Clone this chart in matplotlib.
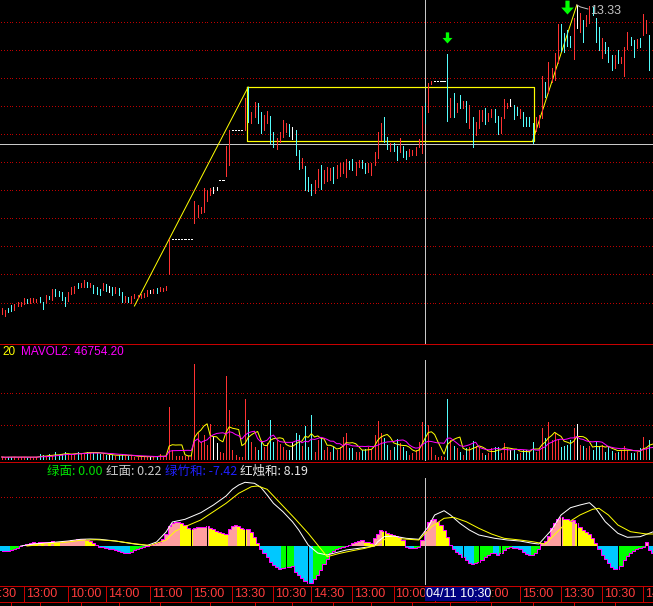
import numpy as np
import pandas as pd
import matplotlib
matplotlib.use('Agg')
import matplotlib.pyplot as plt
from matplotlib.path import Path
from matplotlib.lines import Line2D
from matplotlib.patches import Rectangle
from matplotlib.transforms import offset_copy, blended_transform_factory, Bbox

plt.rcParams['font.family'] = ['Liberation Sans', 'DejaVu Sans']

# ---- price bars (15 min), high / low, direction r=up c=down w=flat ----
highs = [10.30, 10.28, 10.30, 10.33, 10.34, 10.36, 10.36, 10.40, 10.39, 10.40,
         10.40, 10.39, 10.41, 10.36, 10.43, 10.42, 10.49, 10.49, 10.47, 10.46,
         10.41, 10.46, 10.51, 10.52, 10.55, 10.55, 10.58, 10.56, 10.55, 10.53,
         10.51, 10.49, 10.55, 10.54, 10.52, 10.51, 10.51, 10.50, 10.46, 10.42,
         10.41, 10.42, 10.44, 10.43, 10.44, 10.45, 10.48, 10.48, 10.49, 10.50,
         10.51, 10.50, 10.52, 10.99, 10.99, 10.99, 10.99, 10.99, 10.99, 10.99,
         10.99, 11.37, 11.33, 11.31, 11.50, 11.48, 11.50, 11.51, 11.51, 11.58,
         11.58, 11.92, 12.08, 12.08, 12.08, 12.08, 12.08, 12.40, 12.51, 12.26,
         12.36, 12.35, 12.26, 12.23, 12.27, 12.22, 12.06, 12.00, 12.06, 12.18,
         12.15, 12.14, 12.11, 12.08, 11.88, 11.80, 11.72, 11.61, 11.54, 11.58,
         11.69, 11.73, 11.68, 11.71, 11.70, 11.71, 11.73, 11.75, 11.76, 11.79,
         11.77, 11.79, 11.76, 11.78, 11.78, 11.75, 11.75, 11.75, 11.86, 12.06,
         12.15, 12.21, 12.01, 11.95, 11.95, 11.92, 12.00, 11.92, 11.87, 11.89,
         11.88, 11.91, 11.99, 12.32, 12.35, 12.55, 12.57, 12.57, 12.57, 12.57,
         12.57, 12.84, 12.40, 12.45, 12.35, 12.43, 12.37, 12.37, 12.33, 12.21,
         12.16, 12.28, 12.28, 12.30, 12.25, 12.29, 12.29, 12.22, 12.21, 12.39,
         12.35, 12.39, 12.33, 12.31, 12.29, 12.26, 12.21, 12.21, 12.15, 12.21,
         12.23, 12.62, 12.56, 12.76, 12.70, 12.85, 13.14, 13.14, 13.05, 13.08,
         13.02, 13.20, 13.33, 13.25, 13.18, 13.23, 13.32, 13.31, 13.20, 13.11,
         13.00, 12.96, 12.91, 12.83, 12.83, 12.88, 12.81, 12.91, 13.06, 13.01,
         12.98, 12.99, 13.00, 13.24, 13.18, 13.03, 12.76]
lows = [10.24, 10.22, 10.26, 10.27, 10.28, 10.32, 10.32, 10.34, 10.35, 10.35,
        10.36, 10.36, 10.36, 10.29, 10.35, 10.39, 10.38, 10.42, 10.42, 10.38,
        10.32, 10.37, 10.44, 10.45, 10.50, 10.51, 10.51, 10.51, 10.51, 10.45,
        10.44, 10.43, 10.48, 10.47, 10.46, 10.43, 10.45, 10.43, 10.36, 10.36,
        10.36, 10.35, 10.40, 10.40, 10.40, 10.41, 10.42, 10.45, 10.45, 10.45,
        10.47, 10.47, 10.48, 10.64, 10.99, 10.99, 10.99, 10.99, 10.99, 10.99,
        10.99, 11.15, 11.21, 11.25, 11.26, 11.37, 11.43, 11.45, 11.48, 11.58,
        11.58, 11.62, 11.73, 12.08, 12.08, 12.08, 12.08, 12.08, 12.16, 12.15,
        12.21, 12.15, 12.05, 12.08, 12.15, 11.95, 11.91, 11.89, 11.96, 12.01,
        12.06, 12.02, 11.99, 11.83, 11.69, 11.70, 11.48, 11.47, 11.43, 11.45,
        11.51, 11.49, 11.55, 11.57, 11.58, 11.55, 11.60, 11.62, 11.65, 11.61,
        11.69, 11.68, 11.63, 11.71, 11.70, 11.65, 11.66, 11.63, 11.73, 11.80,
        11.98, 11.96, 11.89, 11.87, 11.87, 11.78, 11.86, 11.81, 11.79, 11.82,
        11.83, 11.83, 11.91, 11.85, 12.15, 12.26, 12.54, 12.57, 12.57, 12.57,
        12.57, 12.17, 12.21, 12.21, 12.26, 12.30, 12.30, 12.16, 12.10, 11.91,
        12.03, 12.10, 12.17, 12.14, 12.17, 12.21, 12.16, 12.04, 12.05, 12.20,
        12.30, 12.32, 12.19, 12.23, 12.20, 12.12, 12.12, 12.12, 11.95, 12.07,
        12.11, 12.20, 12.41, 12.45, 12.56, 12.58, 12.75, 12.87, 12.86, 12.92,
        12.91, 12.79, 13.10, 13.06, 12.96, 13.12, 13.15, 13.23, 12.96, 12.88,
        12.80, 12.85, 12.76, 12.68, 12.70, 12.75, 12.75, 12.62, 12.89, 12.93,
        12.81, 12.90, 12.91, 13.03, 13.05, 12.68, 12.53]
dirs = ("rrccrrrrcr" "rrccrcrccc" "crrrcrrcrc" "ccrcwcrccr" "crrrrrrwrc"
        "rrrrwwwwww" "wrrrrrrwww" "wrrwwwwrcr" "rccrrccrrr" "rcwccrcccr"
        "rcrrrcrrrr" "ccrrccrrrr" "rccrccrccr" "rrrrcrrwww" "wcrcrcrcrc"
        "rrrcrrccrr" "rwccrccccr" "rrcrrrrccc" "crwrcrrccc" "rcccrcrrrc"
        "crcrrcc")

# volume, thousands of lots
volume_k = [6, 4.5, 6, 6, 6, 4.5, 6, 6, 4.5, 6,
            4.5, 6, 14, 12, 6, 14, 9, 21, 12, 14,
            21, 12, 14, 16, 21, 16, 19, 21, 19, 21,
            17, 16, 14, 12, 11, 12, 9, 12, 14, 11,
            9, 9, 7, 7, 7, 7, 7, 7, 7, 7,
            14, 7, 9, 157, 27, 9, 9, 9, 10, 9,
            9, 285, 78, 51, 72, 42, 106, 66, 47, 22,
            17, 249, 147, 27, 12, 7, 7, 179, 117, 52,
            37, 27, 52, 37, 48, 117, 51, 57, 45, 37,
            28, 27, 52, 77, 72, 40, 99, 37, 132, 22,
            57, 63, 27, 37, 22, 37, 27, 37, 67, 77,
            32, 32, 22, 22, 27, 30, 37, 27, 72, 115,
            77, 62, 42, 27, 35, 59, 47, 35, 25, 12,
            17, 27, 52, 112, 105, 102, 37, 12, 7, 10,
            7, 179, 57, 39, 32, 22, 12, 32, 37, 54,
            39, 35, 17, 12, 17, 32, 35, 37, 17, 47,
            32, 27, 27, 15, 17, 27, 27, 22, 52, 22,
            27, 92, 62, 112, 57, 77, 59, 35, 39, 42,
            57, 92, 105, 42, 39, 32, 39, 27, 52, 35,
            42, 22, 39, 25, 17, 22, 27, 39, 27, 17,
            17, 22, 32, 65, 32, 57, 37]

# lower indicator histogram
hist = [-4.5, -4.7, -4.8, -3.6, -2.8, -1.5, 0.5, 1.2, 2.3, 3.3,
        3.7, 3.5, 4.0, 3.8, 4.2, 4.0, 4.6, 4.4, 4.2, 4.5,
        5.0, 5.5, 6.0, 6.4, 6.8, 7.0, 7.3, 6.5, 5.0, 3.2,
        1.3, -0.8, -1.3, -2.0, -2.6, -3.3, -4.0, -5.0, -6.0, -6.7,
        -7.0, -5.7, -4.3, -3.3, -2.3, -1.3, -0.3, 1.0, 2.0, 3.0,
        4.3, 7.0, 12.0, 20.0, 23.0, 23.7, 24.0, 22.7, 21.0, 18.3,
        16.7, 17.7, 18.7, 19.3, 19.5, 19.7, 17.7, 16.7, 15.3, 13.7,
        12.7, 12.0, 17.0, 20.3, 21.0, 20.0, 18.3, 17.3, 17.5, 14.3,
        8.7, 2.7, -3.3, -7.3, -11.3, -15.7, -19.0, -21.3, -22.7, -22.0,
        -21.3, -20.7, -20.0, -25.7, -29.0, -32.3, -34.7, -36.7, -36.8, -33.3,
        -29.0, -24.0, -18.0, -13.3, -6.7, -5.0, -3.3, -2.3, -1.3, -0.3,
        1.3, 2.7, 4.0, 5.0, 6.0, 4.3, 3.7, 3.3, 7.7, 12.0,
        16.3, 15.0, 13.3, 12.0, 11.0, 10.0, 8.7, 6.0, -1.3, -2.0,
        -2.3, -1.7, -0.7, 6.0, 15.3, 24.3, 26.0, 26.7, 24.3, 21.0,
        16.0, 8.7, 1.0, -3.3, -5.7, -8.0, -11.3, -14.0, -16.7, -18.0,
        -17.3, -15.7, -14.0, -11.3, -9.0, -6.7, -7.3, -9.0, -6.7, -4.0,
        -2.3, -1.3, -1.7, -2.0, -3.3, -5.7, -8.0, -9.0, -8.7, -6.7,
        -3.3, 2.7, 5.3, 10.0, 17.7, 23.3, 26.7, 28.7, 27.3, 26.7,
        25.3, 26.0, 22.7, 19.3, 16.0, 14.3, 12.0, 7.7, 2.7, -3.3,
        -9.0, -13.3, -17.3, -20.7, -22.7, -23.0, -20.0, -14.0, -10.0, -7.3,
        -4.7, -3.3, -2.3, -1.3, 4.3, -4.0, -6.7]
black_bars = [60, 65, 77, 90, 97, 121, 146, 151, 158, 177, 182, 195]

white_bars = [6, 10, 15, 21, 25, 28, 31, 36, 42, 46, 49, 52, 54, 58, 63, 67, 71, 73, 75, 77,
              80, 82, 84, 86, 89, 92, 94, 97, 100, 103, 105, 109, 113, 118, 119, 121, 124, 128,
              132, 135, 137, 140, 142, 145, 148, 151, 156, 160, 164, 168, 170, 174, 177, 180,
              183, 186, 188, 191, 195, 198, 202, 206]
white_vals = [0, 2, 3.3, 5, 6.7, 7, 6.7, 5, 2, 0.5, 4, 14, 24, 26.7, 33.3, 41, 50, 56.7, 61, 63.7,
              62.7, 58.7, 51, 42.7, 34.3, 24.3, 16, 1, -7, -9, -7.3, -4, -2.3, 0, 4.3, 9.3, 10, 7.7,
              6.7, 19.3, 31, 35.3, 31, 22.7, 16, 11, 7.7, 6, 5, 2.7, 2, 16, 31, 38.3,
              41, 43.3, 37.7, 24.3, 12.7, 8.7, 9.3, 14]
yellow_bars = [8, 15, 21, 25, 30, 36, 42, 47, 52, 55, 58, 63, 67, 71, 75, 79, 81, 84, 87, 90,
               93, 97, 100, 103, 107, 111, 115, 119, 122, 126, 132, 136, 140, 143, 147, 151,
               155, 159, 164, 168, 172, 178, 183, 187, 189, 192, 195, 199, 204, 206]
yellow_vals = [0, 2.3, 4, 5.7, 6.3, 5, 2.3, 0.5, 6, 15, 19.3, 26, 34.3, 42.7, 52.7, 59.3, 60, 56.7,
               46.7, 36.7, 26.7, 12.7, 1, -10.7, -7.3, -4.7, -2.3, 1, 8.7, 7.3, 6, 19.3, 27.7,
               28.7, 24.3, 17.7, 12, 7.7, 6, 4.3, 2, 21, 31, 36.7, 37.7, 31, 21, 14.3, 12, 12]

grid_prices = [13.15, 12.87, 12.59, 12.31, 12.03, 11.75, 11.47, 11.19, 10.91, 10.63, 10.34]
vol_grid = [98000, 195000]
ind_grid = [48.3]

zig_bars = [42, 78, 168, 182]
zig_vals = [10.32, 12.51, 11.97, 13.33]
signal_bars = [141, 179]
signal_tips = [12.95, 13.24]

cross_bar = 134
cross_price = 11.94
cross_label = '04/11 10:30'

time_bars = [-6, 7, 21, 33, 47, 60, 73, 86, 98, 111, 124, 137, 150, 164, 177, 190, 203]
time_labels = ['13:30', '13:00', '10:00', '14:00', '11:00', '15:00', '13:30', '10:30', '14:30',
               '13:00', '10:00', '14:00', '11:00', '15:00', '13:30', '10:30', '14:30']
minor_bars = [3, 12, 25, 37, 50, 66, 80, 92, 105, 117, 130, 142, 155, 168, 181, 194]

# ---- drawing ----
W, H, DPI = 653, 606, 100
PX = 72 / DPI
BG = 'black'
UP = '#ff3232'
DOWN = '#54fcfc'
FLAT = '#ffffff'
GRID = '#c00000'
FRAME = '#c80000'
YEL = '#ffff00'
XLIM = (-0.54, 206.11)
BAR_PX = 3.16

highs = np.array(highs)
lows = np.array(lows)
hist = np.array(hist)
n = len(highs)
idx = np.arange(n)
colmap = {'r': UP, 'c': DOWN, 'w': FLAT}
cols = [colmap[d] for d in dirs]
flat = highs == lows

fig = plt.figure(figsize=(W / DPI, H / DPI), dpi=DPI, facecolor=BG)


def panel(top, bottom, ylim):
    ax = fig.add_axes([0, 1 - bottom / H, 1, (bottom - top) / H])
    ax.set_xlim(*XLIM)
    ax.set_ylim(*ylim)
    ax.axis('off')
    return ax


def fig_y(y):
    return 1 - y / H


dot_x = (np.arange(0, W, 3) + 0.5) / W


def dotted(ax, levels):
    tr = blended_transform_factory(ax.transAxes, ax.transData)
    for g in levels:
        ax.plot(dot_x, np.full(dot_x.size, g), ls='none', marker=',', color=GRID,
                transform=tr)


# main price panel
ax = panel(0, 344, (9.94, 13.38))
dotted(ax, grid_prices)
ax.axhline(cross_price, color='#c8c8c8', lw=PX, antialiased=False)
ax.axvline(cross_bar, color='#c8c8c8', lw=PX, antialiased=False)

ax.plot(zig_bars[0:2], zig_vals[0:2], color=YEL, lw=PX)
ax.plot(zig_bars[2:4], zig_vals[2:4], color=YEL, lw=PX)
bl, br = zig_bars[1] - 0.3, zig_bars[2] + 0.6
bt, bb = zig_vals[1], zig_vals[2]
ax.plot([bl, br, br, bl, bl], [bt, bt, bb, bb, bt], color=YEL, lw=PX * 1.2)

m = ~flat
ax.vlines(idx[m], lows[m], highs[m], colors=[c for c, k in zip(cols, m) if k], lw=PX,
          antialiased=False)
ax.hlines(highs[flat], idx[flat] - 0.2, idx[flat] + 0.2, colors=FLAT, lw=PX, antialiased=False)

arrow = Path([(0, 0), (0.45, 0.5), (0.15, 0.5), (0.15, 1.0), (-0.15, 1.0), (-0.15, 0.5),
              (-0.45, 0.5), (0, 0)],
             [Path.MOVETO] + [Path.LINETO] * 6 + [Path.CLOSEPOLY])
for b, tip, ms in zip(signal_bars, signal_tips, [16, 20]):
    ax.plot([b], [tip], marker=arrow, ms=ms, color='#00ff00', mec='none', ls='none')

top_bar = int(np.argmax(highs))
hi_tr = offset_copy(ax.transData, fig=fig, x=13, y=-6, units='dots')
ax.text(top_bar, highs[top_bar], f'{highs[top_bar]:.2f}', transform=hi_tr, color='#c0c0c0',
        fontsize=9, va='center', ha='left')
ax.plot([top_bar, top_bar + 1.2, top_bar + 3.5], [highs[top_bar], highs[top_bar] - 0.02,
        highs[top_bar] - 0.04], color='#c0c0c0', lw=PX)

# volume panel
VS = 3000.0
av = panel(345, 461, (-2 * VS, 114 * VS))
vol = np.array(volume_k) * 1000
vcols = [UP if (d == 'w' and f) else colmap[d] for d, f in zip(dirs, flat)]
dotted(av, vol_grid)
av.axvline(cross_bar, ymin=0, ymax=(461 - 360) / 116, color='#c8c8c8', lw=PX, antialiased=False)
av.vlines(idx, 0, vol, colors=vcols, lw=PX, antialiased=False)
vs = pd.Series(vol)
av.plot(idx, vs.rolling(5, min_periods=1).mean(), color=YEL, lw=PX)
av.plot(idx, vs.rolling(10, min_periods=1).mean(), color='#ff00ff', lw=PX)

# indicator panel
ai = panel(462, 585, (-39, 84))
dotted(ai, ind_grid)
ai.axvline(cross_bar, ymin=0, ymax=(585 - 478) / 123, color='#c8c8c8', lw=PX, antialiased=False)
prev = np.r_[hist[0] + 0.01, hist[:-1]]
hcols = np.where(hist >= 0, np.where(hist > prev, '#ff9f9f', YEL),
                 np.where(hist < prev, '#00c8ff', '#00ff00'))
ai.bar(idx, hist, width=1.0, color=hcols, linewidth=0, antialiased=False)
ai.step(idx, hist, where='mid', color='#ff00ff', lw=PX)
ai.vlines(black_bars, 0, hist[black_bars], colors='black', lw=PX, antialiased=False)
ai.plot(white_bars, white_vals, color='#ffffff', lw=PX)
ai.plot(yellow_bars, yellow_vals, color=YEL, lw=PX)

# time axis
at = panel(585, 606, (21, 0))
at.vlines(time_bars, 0.5, 16.5, colors=FRAME, lw=PX, antialiased=False)
at.vlines(minor_bars, 16.5, 21, colors=FRAME, lw=PX, antialiased=False)
box_w = 65 / BAR_PX
box_right_px = (cross_bar + box_w - XLIM[0]) * BAR_PX
keep = Bbox([[box_right_px, 0], [W, H]])
lab_tr = offset_copy(at.transData, fig=fig, x=2, units='dots')
for b, t in zip(time_bars, time_labels):
    under_box = cross_bar <= b < cross_bar + box_w
    # a label whose text lies wholly under the cursor box is not seen at all
    if under_box and (b - cross_bar) * BAR_PX + 32 < 65:
        continue
    txt = at.text(b, 9, t, transform=lab_tr, color='#ff3c3c', fontsize=9, va='center',
                  ha='left')
    if under_box:
        txt.set_clip_box(keep)
        txt.set_clip_on(True)
at.add_patch(Rectangle((cross_bar, 1.2), box_w, 15, facecolor='#000080', edgecolor='none',
                       zorder=5))
at.text(cross_bar, 9, cross_label, transform=offset_copy(at.transData, fig=fig, x=1,
        units='dots'), color='white', fontsize=9, va='center', ha='left', zorder=6)

# frame lines
for y in [344, 462, 585.5, 601.5]:
    fig.add_artist(Line2D([0, 1], [fig_y(y), fig_y(y)], color=FRAME, lw=PX, antialiased=False))

# panel captions
fig.text(2 / W, fig_y(352), '20', color=YEL, fontsize=8.5, va='center')
fig.text(21 / W, fig_y(352), 'MAVOL2: 46754.20', color='#ff00ff', fontsize=8.5, va='center')
cjk = ['Noto Sans CJK SC', 'DejaVu Sans']
for x, t, c in [(47, '绿面: 0.00', '#00e000'), (106, '红面: 0.22', '#c8c8c8'),
                (165, '绿竹和: -7.42', '#2020ff'), (240, '红烛和: 8.19', '#e8e8e8')]:
    fig.text(x / W, fig_y(471), t, color=c, fontsize=9, va='center', family=cjk)

fig.savefig('out.png', dpi=DPI, facecolor=BG)
